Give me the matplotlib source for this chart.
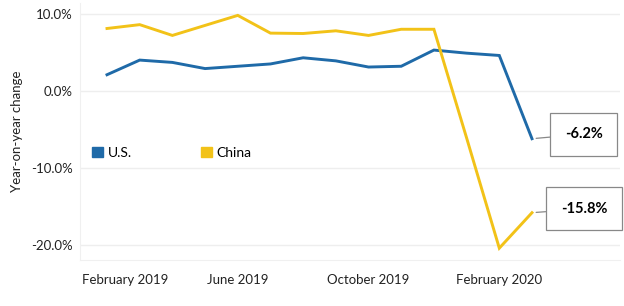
import matplotlib
matplotlib.use("Agg")
import matplotlib.pyplot as plt
from matplotlib.transforms import ScaledTranslation
from matplotlib.patches import Patch

plt.rcParams['font.family'] = ['Lato', 'DejaVu Sans']

months = ['Feb 2019', 'Mar 2019', 'Apr 2019', 'May 2019', 'Jun 2019', 'Jul 2019',
          'Aug 2019', 'Sep 2019', 'Oct 2019', 'Nov 2019', 'Dec 2019', 'Jan 2020',
          'Feb 2020', 'Mar 2020']
us = [2.1, 4.0, 3.7, 2.9, 3.2, 3.5, 4.3, 3.9, 3.1, 3.2, 5.3, 4.9, 4.6, -6.2]
china = [8.1, 8.6, 7.2, 8.5, 9.8, 7.5, 7.45, 7.8, 7.2, 8.0, 8.0, -6.1, -20.4, -15.8]
tick_pos = [0, 4, 8, 12]
tick_labels = ['February 2019', 'June 2019', 'October 2019', 'February 2020']
yticks = [10, 0, -10, -20]

blue = '#1f6aa8'
yellow = '#f2c218'

fig = plt.figure(figsize=(6.24, 3.06), dpi=100)
ax = fig.add_axes([0.128, 0.150, 0.866, 0.840])

x = list(range(len(months)))
ax.plot(x, us, color=blue, lw=2.1, solid_joinstyle='miter')
ax.plot(x, china, color=yellow, lw=2.1, solid_joinstyle='miter')

ax.set_xlim(-0.83, 15.7)
ax.set_ylim(-21.95, 11.4)
ax.set_yticks(yticks)
ax.set_yticklabels([f'{v:.1f}%' for v in yticks])
ax.set_xticks(tick_pos)
ax.set_xticklabels(tick_labels)
ax.tick_params(length=0, labelsize=9.5, colors='#222222', pad=5)
ax.tick_params(axis='x', pad=10)
ax.grid(axis='y', color='#eeeeee', lw=1)
for s in ['top', 'right']:
    ax.spines[s].set_visible(False)
for s in ['left', 'bottom']:
    ax.spines[s].set_color('#f0f0f0')
ax.set_ylabel('Year-on-year change', fontsize=9.5, color='#222222', labelpad=6)

lbl = ax.get_xticklabels()[0]
lbl.set_transform(lbl.get_transform() + ScaledTranslation(0.18, 0, fig.dpi_scale_trans))

handles = [Patch(color=blue, label='U.S.'), Patch(color=yellow, label='China')]
ax.legend(handles=handles, loc='upper left', bbox_to_anchor=(0.0, 0.49), ncol=2,
          frameon=False, fontsize=10, handlelength=0.75, handleheight=0.75,
          handletextpad=0.35, columnspacing=5.0)

for val, ytext in [(us[-1], -5.6), (china[-1], -15.3)]:
    ax.annotate(f'{val:.1f}%', xy=(13, val), xytext=(14.59, ytext),
                ha='center', va='center', fontsize=10.5, fontweight='bold',
                bbox=dict(boxstyle='square,pad=1.0', fc='white', ec='#888888', lw=0.9),
                arrowprops=dict(arrowstyle='-', color='#888888', lw=0.9,
                                shrinkA=0, shrinkB=3))

fig.savefig('out.png', dpi=100, facecolor='white')
